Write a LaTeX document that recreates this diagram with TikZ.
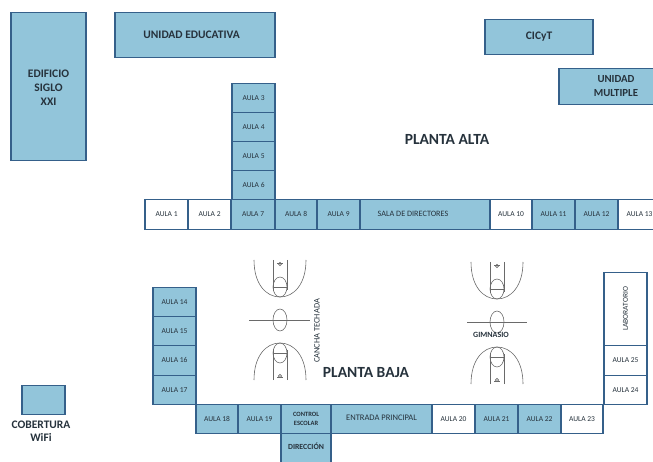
\documentclass[tikz,border=0pt]{standalone}
\usepackage{fontspec}
\setmainfont{Carlito}
\definecolor{roomfill}{HTML}{92C5DA}
\definecolor{roomline}{HTML}{35608A}
\definecolor{inkdark}{HTML}{26323C}
\definecolor{courtline}{HTML}{6A6A6A}
\tikzset{
  room/.style={draw=roomline,line width=1.5pt,fill=roomfill,text=inkdark,inner sep=0pt,align=center,font=\fontsize{7.5}{8}\selectfont},
  whiteroom/.style={room,fill=white},
  bigroom/.style={room,font=\fontsize{11.5}{14}\selectfont\bfseries},
  planta/.style={text=inkdark,inner sep=0pt,font=\fontsize{15.5}{17}\selectfont\bfseries},
  courtpen/.style={draw=courtline,line width=0.6pt},
  courttext/.style={text=inkdark,inner sep=0pt,font=\fontsize{8.4}{9}\selectfont}
}
% name, x1, y1, x2, y2, style, text
\newcommand{\roombox}[7]{%
  \pgfmathsetmacro{\rw}{#4-#2}\pgfmathsetmacro{\rh}{#5-#3}%
  \node[#6,minimum width=\rw pt,minimum height=\rh pt,anchor=north west] (#1) at (#2-0.7,#3-0.4) {#7};}
% half of a court: cx, baseline y, direction (+1 down, -1 up), half width
\newcommand{\halfcourt}[4]{%
  \begin{scope}[shift={(#1,#2)},yscale=#3]
    \draw[courtpen] (-#4,0) .. controls (-#4,24) and (-14,37) .. (0,37)
                            .. controls (14,37) and (#4,24) .. (#4,0);
    \draw[courtpen] (-7,0) -- (-7,30) (7,0) -- (7,30);
    \draw[courtpen] (-7,27) -- (7,27);
    \draw[courtpen] (0,27) ellipse (7 and 10);
    \draw[courtpen] (-3,3) -- (3,3);
    \draw[courtpen] (0,4) circle (1.6);
  \end{scope}}
\begin{document}
\begin{tikzpicture}[x=1pt,y=-1pt]
\useasboundingbox (0,0) rectangle (653,462);
\begin{scope}
\clip (0,0) rectangle (653,462);
% courts
\halfcourt{280}{260}{1}{26}
\halfcourt{280}{380}{-1}{26}
\draw[courtpen] (249,320) -- (310,320);
\draw[courtpen] (280,320) ellipse (7 and 11);
\halfcourt{497}{262}{1}{26}
\halfcourt{497}{384}{-1}{26}
\draw[courtpen] (467,322) -- (527,322);
\draw[courtpen] (497,322) ellipse (7 and 11);
% top buildings
\roombox{edificio}{11}{12}{86}{160}{bigroom}{\mbox{}\\[-4pt]EDIFICIO\\SIGLO\\XXI}
\roombox{educativa}{115}{12}{275}{57}{bigroom}{\raisebox{1pt}{UNIDAD EDUCATIVA}\hspace*{7pt}}
\roombox{cicyt}{485}{19}{593}{54}{bigroom}{CICyT}
\roombox{multiple}{559}{68}{665}{104}{bigroom}{}
\node[text=inkdark,inner sep=0pt,align=center,font=\fontsize{10.8}{14}\selectfont\bfseries] (multipletext) at (616,86) {UNIDAD\\MULTIPLE};
% upper column
\roombox{a3}{232}{83}{275}{112}{room}{AULA 3}
\roombox{a4}{232}{112}{275}{141}{room}{AULA 4}
\roombox{a5}{232}{141}{275}{170}{room}{AULA 5}
\roombox{a6}{232}{170}{275}{199}{room}{AULA 6}
% upper row
\roombox{a1}{145}{199}{188}{229}{whiteroom}{AULA 1}
\roombox{a2}{188}{199}{231}{229}{whiteroom}{AULA 2}
\roombox{a7}{231}{199}{275}{229}{room}{AULA 7}
\roombox{a8}{275}{199}{317}{229}{room}{AULA 8}
\roombox{a9}{317}{199}{360}{229}{room}{AULA 9}
\roombox{sala}{360}{199}{490}{229}{room,font=\fontsize{8.2}{9}\selectfont}{SALA DE DIRECTORES\hspace*{24pt}}
\roombox{a10}{490}{199}{532}{229}{whiteroom}{AULA 10}
\roombox{a11}{532}{199}{575}{229}{room}{AULA 11}
\roombox{a12}{575}{199}{618}{229}{room}{AULA 12}
\roombox{a13}{618}{199}{661}{229}{whiteroom}{AULA 13}
% left column
\roombox{a14}{153}{287}{196}{316}{room}{AULA 14}
\roombox{a15}{153}{316}{196}{345}{room}{AULA 15}
\roombox{a16}{153}{345}{196}{375}{room}{AULA 16}
\roombox{a17}{153}{375}{196}{404}{room}{AULA 17}
% lower row
\roombox{a18}{196}{404}{238}{433}{room}{AULA 18}
\roombox{a19}{238}{404}{281}{433}{room}{AULA 19}
\roombox{control}{281}{404}{331}{433}{room,font=\fontsize{6.5}{9}\selectfont\bfseries}{CONTROL\\ESCOLAR}
\roombox{entrada}{331}{404}{432}{433}{room,font=\fontsize{8.5}{9}\selectfont}{\raisebox{3pt}{ENTRADA PRINCIPAL}}
\roombox{a20}{432}{404}{475}{433}{whiteroom}{AULA 20}
\roombox{a21}{475}{404}{518}{433}{room}{AULA 21}
\roombox{a22}{518}{404}{561}{433}{room}{AULA 22}
\roombox{a23}{561}{404}{603}{433}{whiteroom}{AULA 23}
\roombox{direccion}{281}{433}{331}{468}{room}{}
\node[text=inkdark,inner sep=0pt,font=\fontsize{7.8}{9}\selectfont\bfseries] (direcciontext) at (306,446) {DIRECCIÓN};
% right column
\roombox{lab}{604}{272}{647}{345}{whiteroom}{\rotatebox{90}{LABORATORIO}}
\roombox{a25}{604}{345}{647}{375}{whiteroom}{AULA 25}
\roombox{a24}{604}{375}{647}{404}{whiteroom}{AULA 24}
% wifi
\roombox{wifi}{22}{385}{65}{414}{room}{}
\node[text=inkdark,inner sep=0pt,align=center,font=\fontsize{11.5}{13}\selectfont\bfseries] (wifitext) at (41,431) {COBERTURA\\WiFi};
% labels
\node[planta] (alta) at (447,139) {PLANTA ALTA};
\node[planta] (baja) at (366,373) {PLANTA BAJA};
\node[courttext,rotate=90] (cancha) at (317,331) {CANCHA TECHADA};
\node[courttext,font=\fontsize{8}{9}\selectfont\bfseries] (gimnasio) at (491,335) {GIMNASIO};
\end{scope}
\end{tikzpicture}
\end{document}
